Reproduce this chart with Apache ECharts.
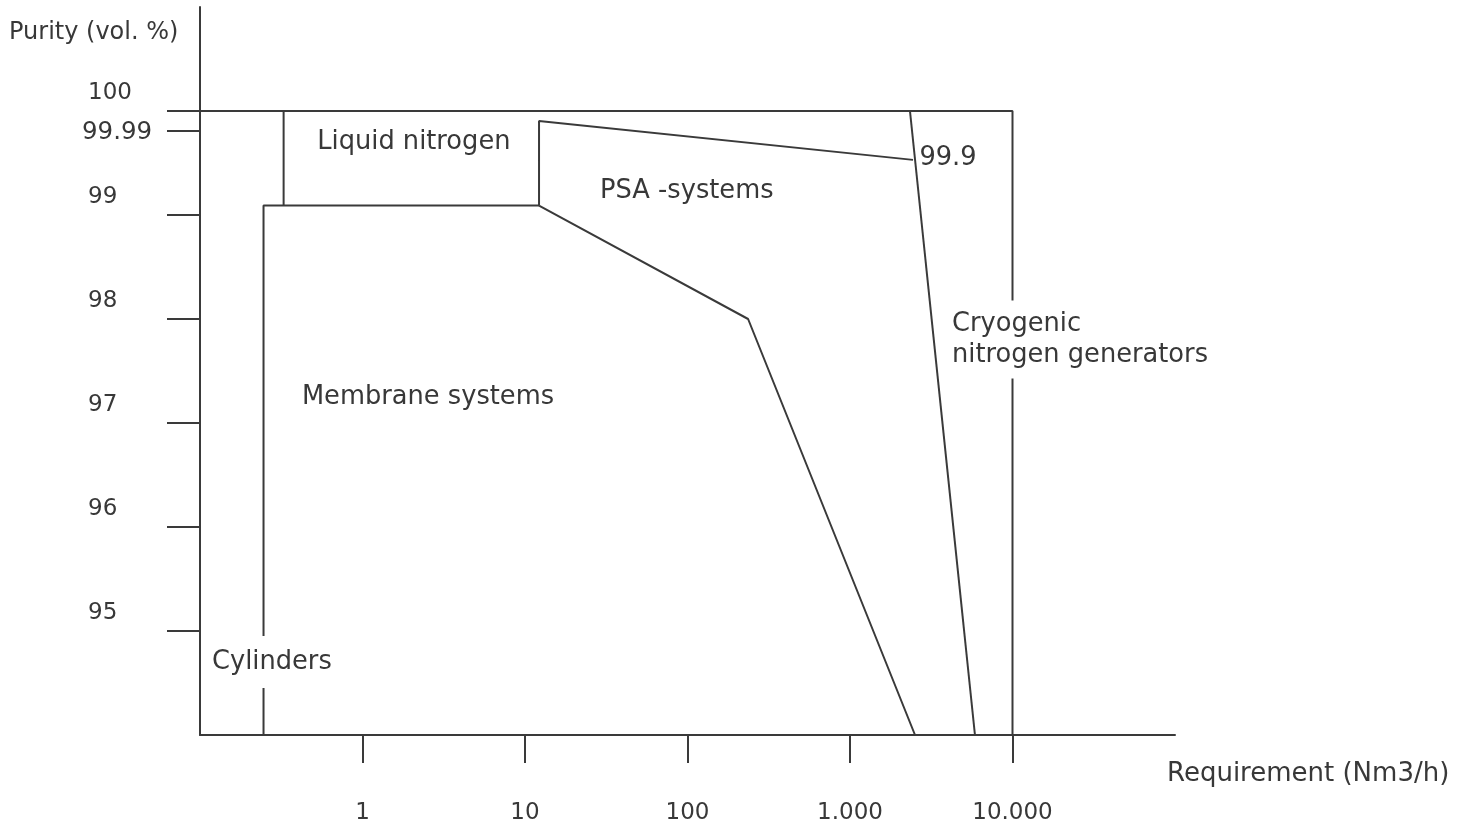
<!DOCTYPE html>
<html><head><meta charset="utf-8">
<script src="https://cdn.jsdelivr.net/npm/echarts@6/dist/echarts.min.js"></script>
<style>html,body{margin:0;padding:0;background:#fff}#c{width:1465px;height:828px}</style>
</head><body><div id="c"></div>
<script>
// x axis ticks (requirement, Nm3/h)
const xTickValues = [1, 10, 100, 1000, 10000];
const xTickLabels = ['1', '10', '100', '1.000', '10.000'];
// y axis ticks (purity, vol. %)
const yTickValues = [95, 96, 97, 98, 99, 99.99, 100];
const yTickLabels = ['95', '96', '97', '98', '99', '99.99', '100'];
// The figure's purity scale is stretched near 100 %: purity -> axis position
const scalePurity = [94, 95, 96, 97, 98, 99, 99.9, 99.99, 100];
const scalePos    = [0, 1, 2, 3, 4, 5, 5.53, 5.808, 6];

// Region boundaries [requirement Nm3/h, purity %]
const outerBoundary     = [[0.1, 100], [10000, 100], [10000, 94]];
const cylindersBoundary = [[0.246, 94], [0.246, 99.155], [12.2, 99.155]];
const liquidBoundary    = [[0.327, 100], [0.327, 99.155]];
const psaTopBoundary    = [[12.2, 99.155], [12.2, 99.995], [2443, 99.9]];
const membraneBoundary  = [[12.2, 99.155], [236, 98], [2512, 94]];
const cryogenicBoundary = [[2339, 100], [5875, 94]];

// Region names and their anchor [requirement, purity]
const regionNames = ['Liquid nitrogen', 'PSA -systems', 'Membrane systems', 'Cylinders', 'Cryogenic\nnitrogen generators', '99.9'];
const regionX = [2.07, 99, 2.53, 0.277, 3900, 4009];
const regionY = [99.965, 99.44, 97.279, 94.731, 97.832, 99.915];

const FONT = 'DejaVu Sans';
const TXT = '#383838';
const LINE = '#3a3a3a';

function toPos(p) {
  for (let i = 1; i < scalePurity.length; i++) {
    if (p <= scalePurity[i]) {
      const a = scalePurity[i - 1], b = scalePurity[i];
      return scalePos[i - 1] + (p - a) / (b - a) * (scalePos[i] - scalePos[i - 1]);
    }
  }
  return scalePos[scalePos.length - 1];
}
const yTickPos = yTickValues.map(toPos);
const conv = arr => arr.map(d => [d[0], toPos(d[1])]);

function lineSeries(data) {
  return {
    type: 'line', data: conv(data), symbol: 'none', z: 2,
    lineStyle: {color: LINE, width: 2}, animation: false, silent: true
  };
}

const labelData = regionNames.map((n, i) => {
  const item = {value: [regionX[i], toPos(regionY[i])], name: n};
  if (n.indexOf('Cryogenic') === 0) {
    item.label = {align: 'left', backgroundColor: '#fff', padding: [8, 6, 8, 6], lineHeight: 31};
  } else if (n === 'Cylinders') {
    item.label = {backgroundColor: '#fff', padding: [13, 4, 13, 4]};
  }
  return item;
});

const chart = echarts.init(document.getElementById('c'));
chart.setOption({
  animation: false,
  backgroundColor: '#fff',
  title: [
    {text: 'Purity (vol. %)', left: 9, top: 21, padding: 0,
     textStyle: {fontFamily: FONT, fontSize: 24, fontWeight: 'normal', color: TXT}},
    {text: 'Requirement (Nm3/h)', left: 1167, top: 761, padding: 0,
     textStyle: {fontFamily: FONT, fontSize: 26, fontWeight: 'normal', color: TXT}}
  ],
  grid: {left: 200, right: 290, top: 7, bottom: 93, containLabel: false},
  xAxis: {
    type: 'log', logBase: 10, min: 0.1, max: 100000,
    axisLine: {show: true, lineStyle: {color: LINE, width: 2}},
    axisTick: {show: true, customValues: xTickValues, length: 28, lineStyle: {color: LINE, width: 2}},
    axisLabel: {
      customValues: xTickValues, margin: 67,
      fontFamily: FONT, fontSize: 23, color: TXT,
      formatter: v => {
        const i = xTickValues.findIndex(t => Math.abs(t - v) / t < 1e-6);
        return i >= 0 ? xTickLabels[i] : '';
      }
    },
    splitLine: {show: false}, minorTick: {show: false}
  },
  yAxis: {
    type: 'value', min: 0, max: 7,
    axisLine: {show: true, lineStyle: {color: LINE, width: 2}},
    axisTick: {show: true, customValues: yTickPos, length: 33, lineStyle: {color: LINE, width: 2}},
    axisLabel: {
      customValues: yTickPos, margin: 118, align: 'left',
      fontFamily: FONT, fontSize: 23, color: TXT,
      formatter: v => {
        const i = yTickPos.findIndex(t => Math.abs(t - v) < 1e-6);
        if (i < 0) return '';
        const s = yTickLabels[i];
        return s === '99.99' ? '{a|' + s + '}' : '{b|' + s + '}';
      },
      rich: {
        a: {fontFamily: FONT, fontSize: 24.5, color: TXT, padding: [3, 0, 0, 0]},
        b: {fontFamily: FONT, fontSize: 23, color: TXT, padding: [0, 0, 36, 6]}
      }
    },
    splitLine: {show: false}
  },
  series: [
    lineSeries(outerBoundary),
    lineSeries(cylindersBoundary),
    lineSeries(liquidBoundary),
    lineSeries(psaTopBoundary),
    lineSeries(membraneBoundary),
    lineSeries(cryogenicBoundary),
    {
      type: 'scatter', data: labelData, symbolSize: 0, z: 10, silent: true,
      itemStyle: {opacity: 1},
      label: {
        show: true, position: 'inside', formatter: p => p.name, offset: [0, 3],
        fontFamily: FONT, fontSize: 25.7, color: TXT, align: 'center', verticalAlign: 'middle'
      }
    }
  ]
});
</script></body></html>
